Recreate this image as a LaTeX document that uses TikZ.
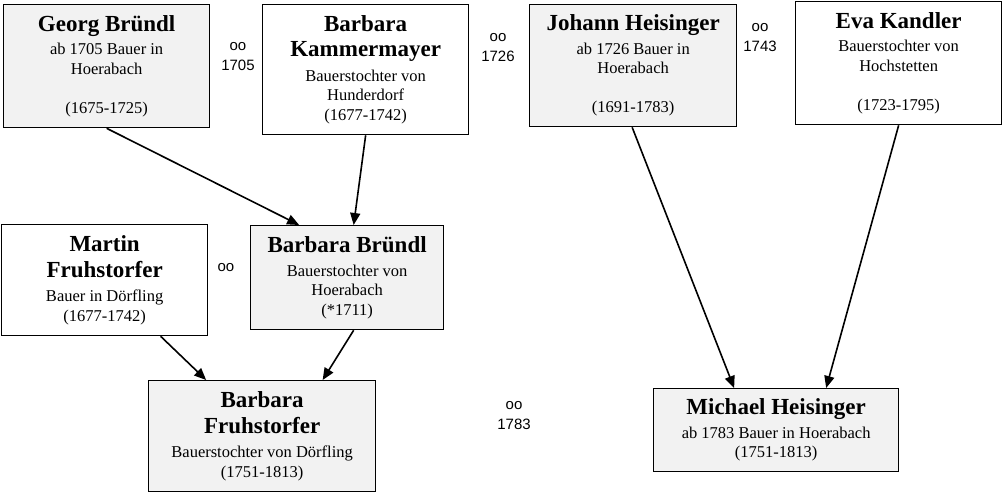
\documentclass[tikz,border=0pt]{standalone}
\usepackage{fontspec}
\setmainfont{Liberation Serif}
\newfontfamily\labelsans{Liberation Sans}
\usepackage{tikz}
\usepackage{xcolor}
\usetikzlibrary{calc,arrows.meta}
\newcommand{\pname}[1]{{\fontsize{23}{26}\selectfont\bfseries #1}}
\newcommand{\pinfo}{\fontsize{16.5}{19.5}\selectfont}
\definecolor{box_fill}{HTML}{F2F2F2}
\tikzset{
    person/.style={draw,line width=1.3pt,align=center,inner sep=0pt,anchor=north west,font=\pinfo},
    person_shaded/.style={person,fill=box_fill},
    marriage/.style={align=center,inner sep=0pt,font=\labelsans\fontsize{15}{20}\selectfont},
    descent/.style={-{Triangle[length=12pt,width=10pt]},line width=1.6pt},
}

\begin{document}
\begin{tikzpicture}[x=1pt,y=-1pt]
  \useasboundingbox (0,0) rectangle (1002,493);
  % first generation
  \node[person_shaded,minimum width=206,minimum height=123] (georg) at (3,4)
    {\pname{Georg Bründl}\\[4pt] ab 1705 Bauer in\\ Hoerabach\\[19.5pt] (1675-1725)};
  \node[person,minimum width=206,minimum height=130] (kammer) at (262,4)
    {\pname{Barbara}\\[6pt] \pname{Kammermayer}\\[5pt] Bauerstochter von\\ Hunderdorf\\ (1677-1742)};
  \node[person_shaded,minimum width=207,minimum height=122] (johann) at (529,4)
    {\pname{Johann Heisinger}\\[4pt] ab 1726 Bauer in\\ Hoerabach\\[19.5pt] (1691-1783)};
  \node[person,minimum width=206,minimum height=123] (eva) at (795,1)
    {\pname{Eva Kandler}\\[4pt] Bauerstochter von\\ Hochstetten\\[19.5pt] (1723-1795)};
  % second generation
  \node[person,minimum width=206,minimum height=111] (martin) at (1,224)
    {\pname{Martin}\\[6pt] \pname{Fruhstorfer}\\[5pt] Bauer in Dörfling\\ (1677-1742)};
  \node[person_shaded,minimum width=193,minimum height=104] (bruendl) at (250,225)
    {\pname{Barbara Bründl}\\[4pt] Bauerstochter von\\ Hoerabach\\ (*1711)};
  % third generation
  \node[person_shaded,minimum width=227,minimum height=111] (fruh) at (148,380)
    {\pname{Barbara}\\[6pt] \pname{Fruhstorfer}\\[5pt] Bauerstochter von Dörfling\\ (1751-1813)};
  \node[person_shaded,minimum width=245,minimum height=83] (michael) at (653,388)
    {\pname{Michael Heisinger}\\[4pt] ab 1783 Bauer in Hoerabach\\ (1751-1813)};
  % marriages
  \node[marriage] (m1705) at (238,57) {oo\\1705};
  \node[marriage] (m1726) at (498,48) {oo\\1726};
  \node[marriage] (m1743) at (760,38) {oo\\1743};
  \node[marriage] (m_fb) at (226,268) {oo};
  \node[marriage] (m1783) at (514,416) {oo\\1783};
  % descent
  \draw[descent] (georg.south) -- ([xshift=-48]bruendl.north);
  \draw[descent] (kammer.south) -- ([xshift=6.5]bruendl.north);
  \draw[descent] ([xshift=56]martin.south) -- ([xshift=-56]fruh.north);
  \draw[descent] ([xshift=6.5]bruendl.south) -- ([xshift=60.5]fruh.north);
  \draw[descent] ([xshift=-1]johann.south) -- ([xshift=-42]michael.north);
  \draw[descent] (eva.south) -- ([xshift=50]michael.north);
\end{tikzpicture}
\end{document}
